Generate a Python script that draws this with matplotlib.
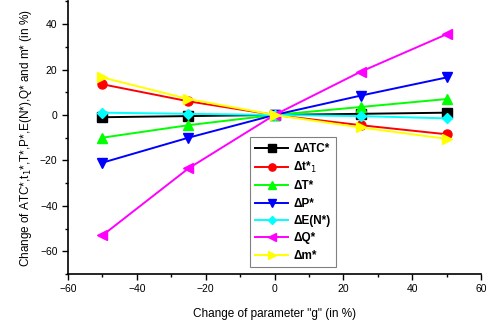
import numpy as np
import matplotlib
matplotlib.use('Agg')
import matplotlib.pyplot as plt
from matplotlib.ticker import MultipleLocator

# dados
g = [-50, -25, 0, 25, 50]
atc = [-1, -0.5, 0, 0.5, 1]
t1 = [13.5, 6, 0, -4.5, -8.5]
T = [-10, -4.5, 0, 3.5, 7]
P = [-21, -10, 0, 8.5, 16.5]
EN = [1, 0.5, 0, -0.5, -1.5]
Q = [-53, -23.5, 0, 19, 35.5]
m = [16.5, 7, 0, -5.5, -10.5]

plt.rcParams['font.family'] = ['Liberation Sans', 'DejaVu Sans']

fig = plt.figure(figsize=(4.98, 3.29), dpi=100)
ax = fig.add_axes([0.1365, 0.167, 0.8295, 0.829])

series = [
    (atc, 'black', 's', 'ΔATC*'),
    (t1, 'red', 'o', 'Δt*$_1$'),
    (T, '#00ff00', '^', 'ΔT*'),
    (P, 'blue', 'v', 'ΔP*'),
    (EN, 'cyan', 'D', 'ΔE(N*)'),
    (Q, 'magenta', '<', 'ΔQ*'),
    (m, 'yellow', '>', 'Δm*'),
]
for y, cor, mk, lab in series:
    ms = 5.5 if mk == 'D' else 6.5
    ax.plot(g, y, color=cor, marker=mk, markersize=ms, linewidth=1.4, label=lab)

ax.set_xlim(-60, 60)
ax.set_ylim(-70, 50)
ax.xaxis.set_major_locator(MultipleLocator(20))
ax.xaxis.set_minor_locator(MultipleLocator(10))
ax.yaxis.set_major_locator(MultipleLocator(20))
ax.yaxis.set_minor_locator(MultipleLocator(10))
ax.spines['top'].set_visible(False)
ax.spines['right'].set_visible(False)
ax.tick_params(direction='out', labelsize=7.5, length=4, width=1)
ax.tick_params(which='minor', direction='out', length=2.5, width=1)
for s in ['left', 'bottom']:
    ax.spines[s].set_linewidth(1.2)

ax.set_xlabel('Change of parameter "g" (in %)', fontsize=8.5, labelpad=10)
ax.set_ylabel('Change of ATC*,t$_1$*,T*,P*,E(N*),Q* and m* (in %)', fontsize=8.5)

leg = ax.legend(loc='lower left', bbox_to_anchor=(250/498, 1 - 267/329),
                bbox_transform=fig.transFigure, fancybox=False, framealpha=1,
                edgecolor='gray', prop={'weight': 'bold', 'size': 8.5},
                handlelength=2.8, labelspacing=0.45, borderpad=0.45,
                handletextpad=0.4, markerscale=0.8, borderaxespad=0)
leg.get_frame().set_linewidth(0.8)

fig.savefig('out.png', dpi=100)
